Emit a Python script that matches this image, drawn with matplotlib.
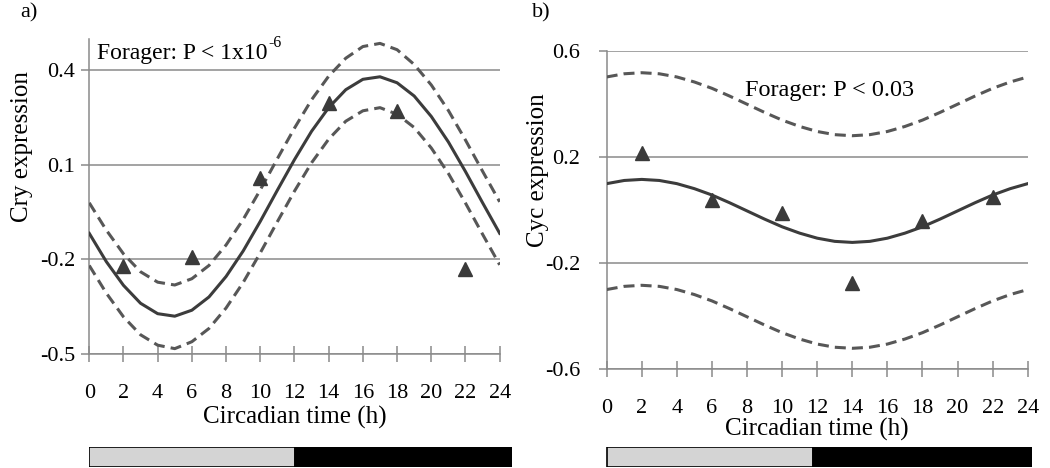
import matplotlib.pyplot as plt

plt.rcParams["font.family"] = ["Liberation Serif", "DejaVu Serif"]

# hours of the fitted curves and the sampled time points
fit_hours = list(range(25))
sample_hours = [2, 6, 10, 14, 18, 22]

# panel a: Cry
cry_points = [-0.221, -0.192, 0.058, 0.297, 0.271, -0.229]
cry_fit = [-0.117, -0.207, -0.282, -0.339, -0.372, -0.380, -0.361, -0.319, -0.254,
           -0.173, -0.079, 0.020, 0.117, 0.207, 0.282, 0.339, 0.372, 0.380, 0.361,
           0.319, 0.254, 0.173, 0.079, -0.020, -0.117]
cry_upper = [-0.020, -0.107, -0.182, -0.239, -0.272, -0.281, -0.261, -0.219, -0.154,
             -0.073, 0.021, 0.120, 0.217, 0.307, 0.382, 0.439, 0.476, 0.486, 0.466,
             0.419, 0.354, 0.273, 0.179, 0.080, -0.017]
cry_lower = [-0.219, -0.307, -0.382, -0.439, -0.472, -0.483, -0.461, -0.419, -0.354,
             -0.273, -0.179, -0.080, 0.017, 0.107, 0.182, 0.239, 0.272, 0.282, 0.261,
             0.219, 0.154, 0.073, -0.021, -0.120, -0.217]
cry_yticks = [-0.5, -0.2, 0.1, 0.4]
cry_yticklabels = ["-0.5", "-0.2", "0.1", "0.4"]

# panel b: Cyc
cyc_points = [0.214, 0.037, -0.013, -0.275, -0.041, 0.047]
cyc_fit = [0.099, 0.111, 0.115, 0.111, 0.099, 0.080, 0.056, 0.027, -0.004, -0.035,
           -0.064, -0.088, -0.107, -0.119, -0.123, -0.119, -0.107, -0.088, -0.064,
           -0.035, -0.004, 0.027, 0.056, 0.080, 0.099]
cyc_upper = [0.502, 0.514, 0.518, 0.514, 0.502, 0.483, 0.459, 0.430, 0.399, 0.368,
             0.339, 0.315, 0.296, 0.284, 0.280, 0.284, 0.296, 0.315, 0.339, 0.368,
             0.399, 0.430, 0.459, 0.483, 0.502]
cyc_lower = [-0.301, -0.289, -0.285, -0.289, -0.301, -0.320, -0.344, -0.373, -0.404,
             -0.435, -0.464, -0.488, -0.507, -0.519, -0.523, -0.519, -0.507, -0.488,
             -0.464, -0.435, -0.404, -0.373, -0.344, -0.320, -0.301]
cyc_yticks = [-0.6, -0.2, 0.2, 0.6]
cyc_yticklabels = ["-0.6", "-0.2", "0.2", "0.6"]

xticks = list(range(0, 25, 2))
# light / dark phases (start, length in h) for the bar under each panel
phase_starts = [0, 12]
phase_lengths = [12, 12.7]
phase_colors = ["#d4d4d4", "black"]

GRID = "#8a8a8a"
LINE = "#3c3c3c"
DASH = "#575757"

fig = plt.figure(figsize=(10.5, 4.68), dpi=100)


def draw_panel(rect, fit, upper, lower, points, ylim, yticks, yticklabels,
               ylabel, ylabel_y, xlabel_y, ypad, xpad):
    ax = fig.add_axes(rect)
    ax.plot(fit_hours, upper, color=DASH, lw=2.2, ls=(0, (3.6, 2.0)), zorder=3)
    ax.plot(fit_hours, lower, color=DASH, lw=2.2, ls=(0, (3.6, 2.0)), zorder=3)
    ax.plot(fit_hours, fit, color=LINE, lw=2.2, zorder=3)
    ax.plot(sample_hours, points, ls="none", marker="^", ms=9.5, color="#3a3a3a", zorder=4)
    ax.set_xlim(0, 24)
    ax.set_ylim(*ylim)
    ax.set_yticks(yticks)
    ax.set_yticklabels(yticklabels)
    ax.set_xticks(xticks)
    ax.set_xticklabels([str(t) for t in xticks])
    for y in yticks:
        ax.axhline(y, color=GRID, lw=1.1, zorder=1)
    for side in ["top", "right"]:
        ax.spines[side].set_visible(False)
    for side in ["left", "bottom"]:
        ax.spines[side].set_color(GRID)
        ax.spines[side].set_linewidth(1.1)
    ax.tick_params(axis="y", direction="out", length=6, width=1.1, color=GRID,
                   labelsize=16, pad=ypad)
    ax.tick_params(axis="x", direction="inout", length=11, width=1.1, color=GRID,
                   labelsize=16, pad=xpad)
    ax.set_xlabel("Circadian time (h)", fontsize=18, va="center")
    ax.xaxis.set_label_coords(0.5, xlabel_y)
    ax.set_ylabel(ylabel, fontsize=18, va="center")
    ax.yaxis.set_label_coords(-0.164, ylabel_y)
    return ax


ax1 = draw_panel([0.0850, 0.2436, 0.3909, 0.6731], cry_fit, cry_upper, cry_lower,
                 cry_points, (-0.5, 0.5), cry_yticks, cry_yticklabels,
                 "Cry expression", 0.657, -0.200, 4, 16)
t1 = ax1.text(0.018, 0.935, "Forager: P < 1x10", transform=ax1.transAxes,
              fontsize=17, va="baseline", ha="left")

ax2 = draw_panel([0.5778, 0.2122, 0.4010, 0.6788], cyc_fit, cyc_upper, cyc_lower,
                 cyc_points, (-0.6, 0.6), cyc_yticks, cyc_yticklabels,
                 "Cyc expression", 0.625, -0.192, 13, 16)
ax2.text(0.53, 0.875, "Forager: P < 0.03", transform=ax2.transAxes,
         fontsize=17.5, va="center", ha="center")

# superscript exponent placed just after the main text
fig.canvas.draw()
bb = t1.get_window_extent()
fig.text(bb.x1 / fig.bbox.width + 0.001, (bb.y0 + 17) / fig.bbox.height, "-6",
         fontsize=11.5, va="baseline", ha="left")

fig.text(0.019, 0.972, "a)", fontsize=16, va="center", ha="left")
fig.text(0.507, 0.972, "b)", fontsize=16, va="center", ha="left")


def draw_phase_bar(rect, x0):
    bx = fig.add_axes(rect)
    bx.barh([0] * len(phase_starts), phase_lengths, left=phase_starts, height=1.0,
            color=phase_colors, edgecolor="black", linewidth=1.2)
    bx.set_xlim(x0, phase_starts[-1] + phase_lengths[-1])
    bx.set_ylim(-0.5, 0.5)
    bx.axis("off")
    return bx


draw_phase_bar([0.0848, 0.003, 0.4028, 0.042], 0)
draw_phase_bar([0.5752, 0.003, 0.4074, 0.042], -0.15)

fig.savefig("out.png", dpi=100)
